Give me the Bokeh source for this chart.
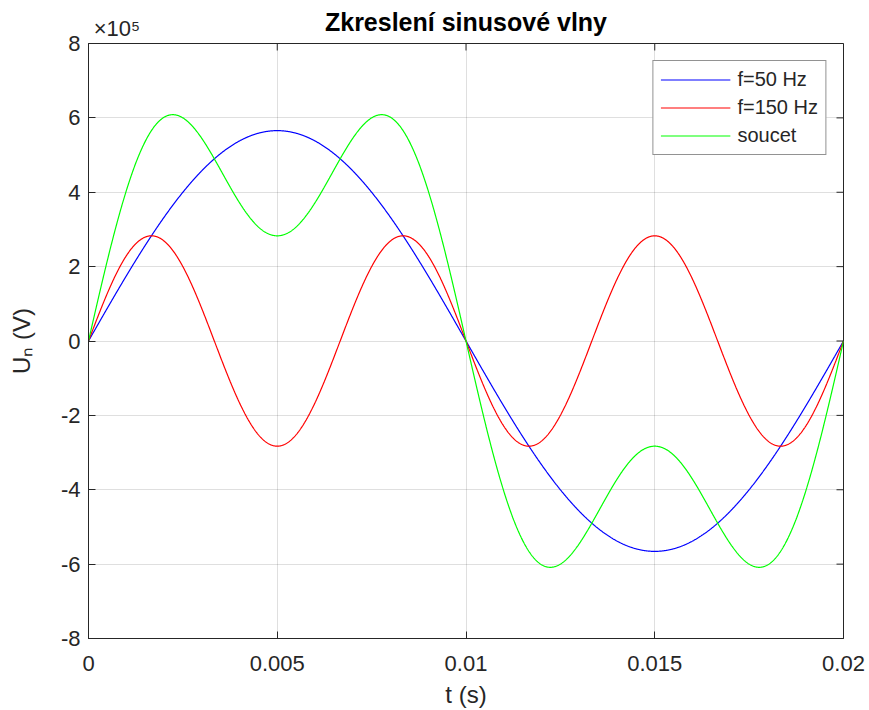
import numpy as np
from bokeh.plotting import figure
from bokeh.models import (Range1d, FixedTicker, CustomJSTickFormatter, Legend, LegendItem, LinearAxis)
from bokeh.embed import file_html
from bokeh.resources import INLINE

# ---- data ----
series_names = ["f=50 Hz", "f=150 Hz", "soucet"]
series_colors = ["#0000ff", "#ff0000", "#00ff00"]
freq_hz = [50, 150]              # frequencies of the two components
amplitude_v = [565685, 282843]   # peak values (V)
t_start_s = 0.0
t_end_s = 0.02
n_samples = 2001
x_ticks = [0, 0.005, 0.01, 0.015, 0.02]
y_ticks = [-8e5, -6e5, -4e5, -2e5, 0, 2e5, 4e5, 6e5, 8e5]
y_exponent_label = "×10⁵"
title_text = "Zkreslení sinusové vlny"
x_label = "t (s)"
y_label = "Uₙ (V)"

t = np.linspace(t_start_s, t_end_s, n_samples)
u50 = amplitude_v[0] * np.sin(2 * np.pi * freq_hz[0] * t)
u150 = amplitude_v[1] * np.sin(2 * np.pi * freq_hz[1] * t)
usum = u50 + u150
curves = [u50, u150, usum]

FONT = "Liberation Sans"
TXT = "#262626"
FRAME_W = 755
# horizontal anchor of the exponent label, just right of the frame's left edge
EXP_POS = t_start_s + (28.5 / FRAME_W) * (t_end_s - t_start_s)

p = figure(width=869, height=710, output_backend="svg", toolbar_location=None,
           x_range=Range1d(t_start_s, t_end_s), y_range=Range1d(y_ticks[0], y_ticks[-1]),
           title=None,
           min_border_left=88, min_border_right=26, min_border_top=43, min_border_bottom=72)
p.background_fill_color = "white"
p.border_fill_color = "white"
p.outline_line_color = TXT
p.outline_line_width = 1

renderers = []
for name, col, y in zip(series_names, series_colors, curves):
    r = p.line(t, y, line_color=col, line_width=1.2)
    renderers.append(r)

# inward ticks on the top and right edges (box on)
p.ray(x=x_ticks, y=[y_ticks[-1]] * len(x_ticks), length=7, length_units="screen",
      angle=-np.pi / 2, line_color=TXT, line_width=1)
p.ray(x=[x_ticks[-1]] * len(y_ticks), y=y_ticks, length=7, length_units="screen",
      angle=np.pi, line_color=TXT, line_width=1)

# axes
xa = p.xaxis[0]
xa.ticker = FixedTicker(ticks=x_ticks)
xa.formatter = CustomJSTickFormatter(code="return String(Math.round(tick*1000)/1000);")
xa.axis_label = x_label
ya = p.yaxis[0]
ya.ticker = FixedTicker(ticks=y_ticks)
ya.formatter = CustomJSTickFormatter(code="return String(Math.round(tick/1e5));")
ya.axis_label = y_label

for ax in (xa, ya):
    ax.major_tick_in = 7
    ax.major_tick_out = 0
    ax.minor_tick_line_color = None
    ax.axis_line_color = TXT
    ax.major_tick_line_color = TXT
    ax.major_label_text_font = FONT
    ax.major_label_text_font_size = "22px"
    ax.major_label_text_color = TXT
    ax.axis_label_text_font = FONT
    ax.axis_label_text_font_size = "24px"
    ax.axis_label_text_font_style = "normal"
    ax.axis_label_text_color = TXT
xa.major_label_standoff = 17
xa.axis_label_standoff = 7
ya.major_label_standoff = 8
ya.axis_label_standoff = 23

# top axis: carries the exponent label (as its only tick label) and the title (as its axis label)
top = LinearAxis(ticker=FixedTicker(ticks=[EXP_POS]),
                 formatter=CustomJSTickFormatter(args=dict(lbl=y_exponent_label), code="return lbl;"),
                 axis_label=title_text,
                 axis_line_color=None, major_tick_line_color=None, minor_tick_line_color=None,
                 major_tick_in=0, major_tick_out=0, major_label_standoff=3,
                 major_label_text_font=FONT, major_label_text_font_size="22px",
                 major_label_text_color=TXT,
                 axis_label_text_font=FONT, axis_label_text_font_size="25px",
                 axis_label_text_font_style="bold", axis_label_text_color="black",
                 axis_label_standoff=-23)
p.add_layout(top, "above")

for g in (p.xgrid[0], p.ygrid[0]):
    g.grid_line_color = TXT
    g.grid_line_alpha = 0.15
p.xgrid[0].ticker = FixedTicker(ticks=x_ticks)
p.ygrid[0].ticker = FixedTicker(ticks=y_ticks)

# legend
legend = Legend(items=[LegendItem(label=n, renderers=[r]) for n, r in zip(series_names, renderers)],
                location="top_right", margin=17, padding=7, spacing=5,
                label_height=23, glyph_height=23, glyph_width=70, label_standoff=7,
                label_text_font=FONT, label_text_font_size="20px", label_text_color=TXT,
                border_line_color=TXT, border_line_width=1, background_fill_color="white",
                background_fill_alpha=1)
p.add_layout(legend)

open("out.html", "w").write(file_html(p, INLINE))
